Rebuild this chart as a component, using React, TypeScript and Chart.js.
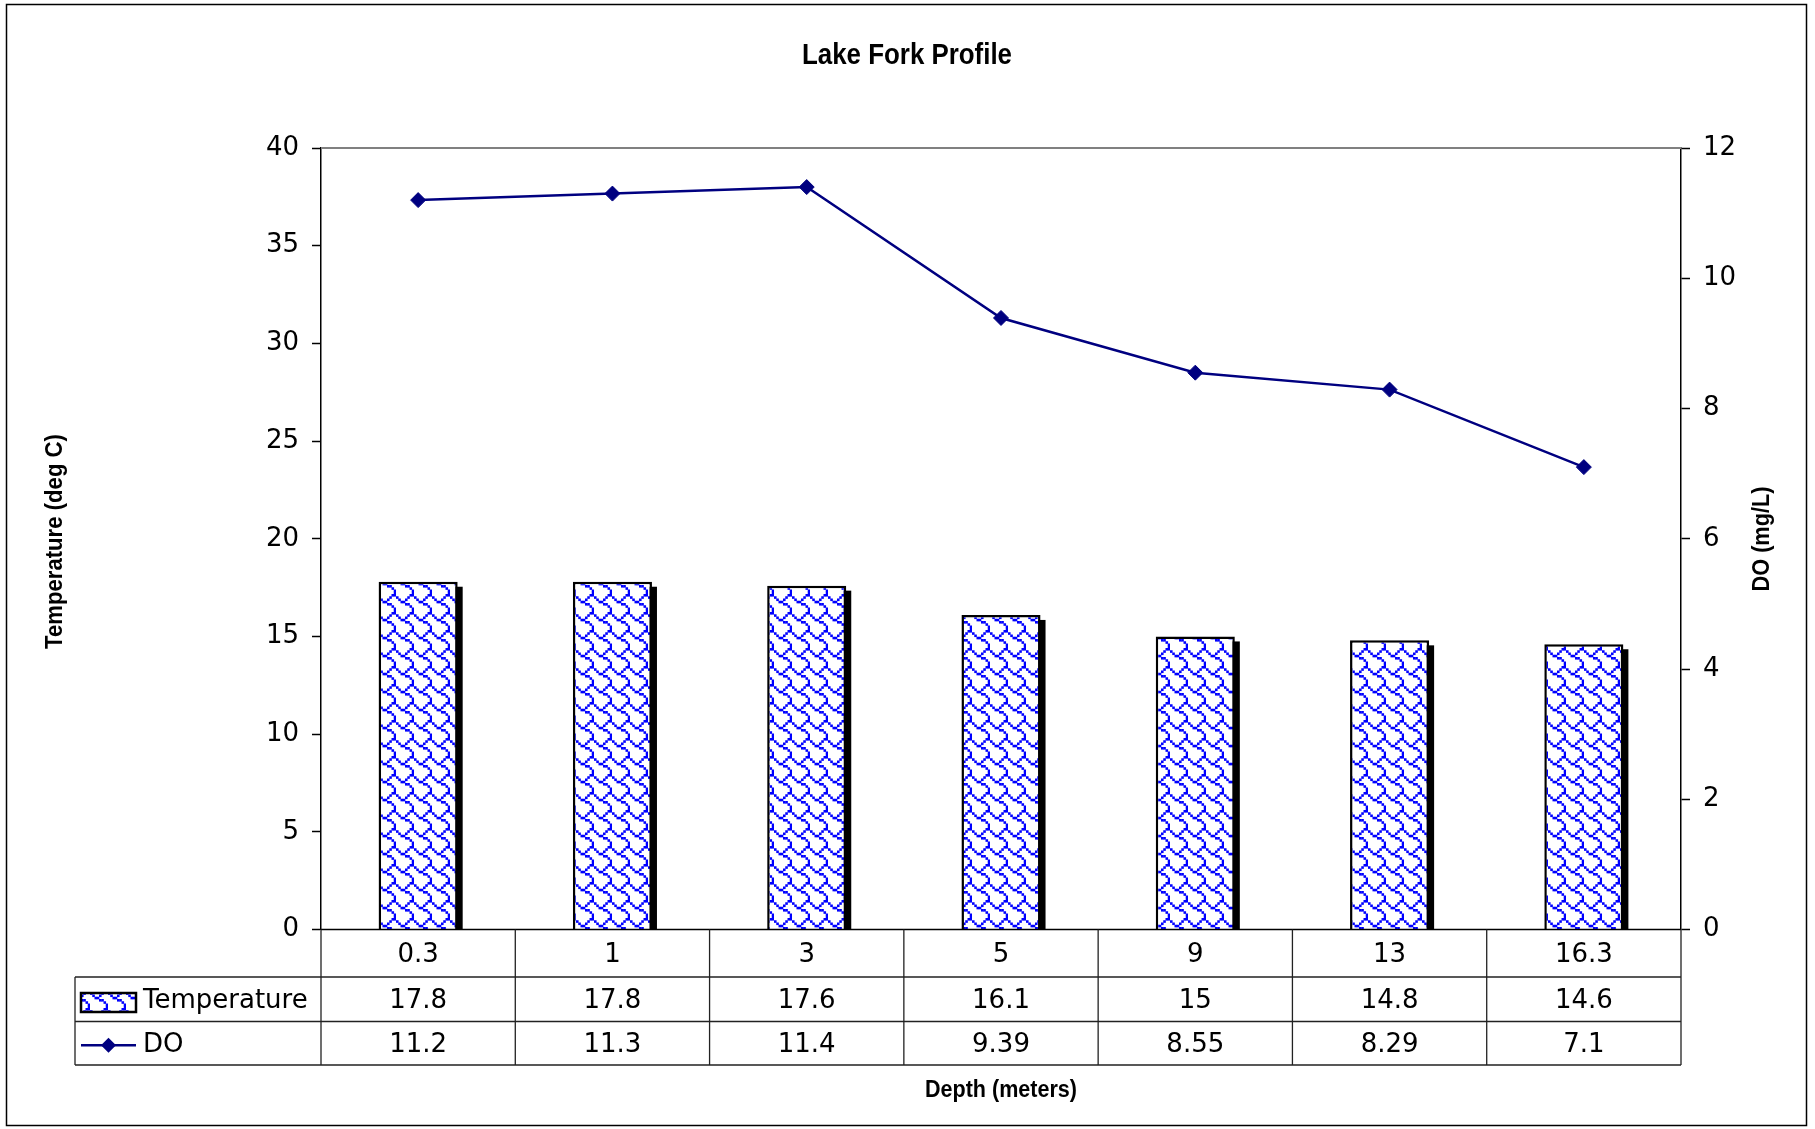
import React, { useEffect, useRef } from "react";
import { Chart, registerables } from "chart.js";

Chart.register(...registerables);

// ---- Data ----
const depthLabels = ["0.3", "1", "3", "5", "9", "13", "16.3"];
const temperatureValues = [17.8, 17.8, 17.6, 16.1, 15, 14.8, 14.6];
const doValues = [11.2, 11.3, 11.4, 9.39, 8.55, 8.29, 7.1];
const tempAxisRange = [0, 40, 5]; // min, max, step
const doAxisRange = [0, 12, 2];
const chartTitle = "Lake Fork Profile";
const leftAxisTitle = "Temperature (deg C)";
const rightAxisTitle = "DO (mg/L)";
const xAxisTitle = "Depth (meters)";
const seriesNames = ["Temperature", "DO"];

// Shingle hatch bitmap (8x8)
const SHINGLE = [0x03, 0x84, 0x48, 0x30, 0x0c, 0x02, 0x01, 0x01];

const W = 1815;
const H = 1129;
const NAVY = "#000080";
const TICK_FONT = '"DejaVu Sans", Verdana, sans-serif';
const TITLE_FONT = '"Liberation Sans Narrow", "Liberation Sans", Arial, sans-serif';

function makePattern(ctx: CanvasRenderingContext2D): CanvasPattern | string {
  const tile = 18;
  const k = tile / 8;
  const c = document.createElement("canvas");
  c.width = tile;
  c.height = tile;
  const g = c.getContext("2d");
  if (!g) return "#fff";
  g.fillStyle = "#ffffff";
  g.fillRect(0, 0, tile, tile);
  g.fillStyle = "#0000ff";
  SHINGLE.forEach((row, r) => {
    for (let b = 0; b < 8; b++) {
      if (row & (0x80 >> b)) g.fillRect(b * k, r * k, k * 1.15, k * 1.15);
    }
  });
  return ctx.createPattern(c, "repeat") || "#fff";
}

function fitText(
  ctx: CanvasRenderingContext2D,
  text: string,
  x: number,
  y: number,
  width: number,
  size: number,
  rot = 0
) {
  ctx.save();
  ctx.font = `bold ${size}px ${TITLE_FONT}`;
  const w = ctx.measureText(text).width;
  ctx.translate(x, y);
  if (rot) ctx.rotate(rot);
  ctx.scale(width / w, 1);
  ctx.textAlign = "center";
  ctx.textBaseline = "alphabetic";
  ctx.fillStyle = "#000";
  ctx.fillText(text, 0, 0);
  ctx.restore();
}

export default function App() {
  const ref = useRef<HTMLCanvasElement | null>(null);

  useEffect(() => {
    const canvas = ref.current;
    if (!canvas) return;
    const ctx0 = canvas.getContext("2d");
    if (!ctx0) return;
    const pattern = makePattern(ctx0);

    const decor = {
      id: "decor",
      beforeDatasetsDraw(chart: any) {
        const ctx = chart.ctx as CanvasRenderingContext2D;
        const meta = chart.getDatasetMeta(1);
        ctx.save();
        ctx.fillStyle = "#000";
        meta.data.forEach((el: any) => {
          const w = el.width;
          const top = el.y + 5;
          ctx.fillRect(el.x - w / 2 + 5, top, w, el.base - top);
        });
        ctx.restore();
      },
      afterDraw(chart: any) {
        const ctx = chart.ctx as CanvasRenderingContext2D;
        const area = chart.chartArea;
        const xs = chart.scales.x;
        const n = depthLabels.length;
        const colW = (area.right - area.left) / n;
        const y0 = area.bottom;
        const y1 = 977;
        const y2 = 1021.5;
        const y3 = 1065;
        const tableLeft = 75;

        ctx.save();
        // outer border
        ctx.strokeStyle = "#000";
        ctx.lineWidth = 1.5;
        ctx.strokeRect(6.5, 4.5, 1800, 1121);

        // plot top border
        ctx.strokeStyle = "#808080";
        ctx.lineWidth = 2;
        ctx.beginPath();
        ctx.moveTo(area.left, area.top);
        ctx.lineTo(area.right, area.top);
        ctx.stroke();

        // x axis line
        ctx.strokeStyle = "#000";
        ctx.lineWidth = 1.5;
        ctx.beginPath();
        ctx.moveTo(area.left, y0);
        ctx.lineTo(area.right, y0);
        ctx.stroke();

        // table grid
        ctx.strokeStyle = "#222";
        ctx.lineWidth = 1.3;
        ctx.beginPath();
        [y1, y2, y3].forEach((y) => {
          ctx.moveTo(tableLeft, y);
          ctx.lineTo(area.right, y);
        });
        ctx.moveTo(tableLeft, y1);
        ctx.lineTo(tableLeft, y3);
        for (let i = 0; i <= n; i++) {
          const x = area.left + i * colW;
          ctx.moveTo(x, y0);
          ctx.lineTo(x, y3);
        }
        ctx.stroke();

        // table text
        ctx.fillStyle = "#000";
        ctx.font = `26px ${TICK_FONT}`;
        ctx.textAlign = "center";
        ctx.textBaseline = "middle";
        for (let i = 0; i < n; i++) {
          const cx = xs.getPixelForValue(i);
          ctx.fillText(depthLabels[i], cx, (y0 + y1) / 2 + 1.5);
          ctx.fillText(String(temperatureValues[i]), cx, (y1 + y2) / 2 + 1.5);
          ctx.fillText(String(doValues[i]), cx, (y2 + y3) / 2 + 1.5);
        }
        ctx.textAlign = "left";
        ctx.fillText(seriesNames[0], 143, (y1 + y2) / 2 + 1.5);
        ctx.fillText(seriesNames[1], 143, (y2 + y3) / 2 + 1.5);

        // legend key: temperature
        ctx.fillStyle = pattern as any;
        ctx.fillRect(81, 993, 55, 19);
        ctx.strokeStyle = "#000";
        ctx.lineWidth = 2.5;
        ctx.strokeRect(81, 993, 55, 19);

        // legend key: DO
        const ly = (y2 + y3) / 2 + 2;
        ctx.strokeStyle = NAVY;
        ctx.lineWidth = 2.5;
        ctx.beginPath();
        ctx.moveTo(81, ly);
        ctx.lineTo(136, ly);
        ctx.stroke();
        ctx.fillStyle = NAVY;
        ctx.beginPath();
        const dx = 108.5;
        const r = 7.5;
        ctx.moveTo(dx, ly - r);
        ctx.lineTo(dx + r, ly);
        ctx.lineTo(dx, ly + r);
        ctx.lineTo(dx - r, ly);
        ctx.closePath();
        ctx.fill();
        ctx.restore();

        // titles
        fitText(ctx, chartTitle, 907, 64, 210, 29);
        fitText(ctx, leftAxisTitle, 61.5, 541.5, 215, 23, -Math.PI / 2);
        fitText(ctx, rightAxisTitle, 1769, 539, 105, 24, -Math.PI / 2);
        fitText(ctx, xAxisTitle, 1001, 1097, 152, 23);
      },
    };

    const tickFont = { family: TICK_FONT, size: 26 };

    const chart = new Chart(canvas, {
      type: "bar",
      data: {
        labels: depthLabels,
        datasets: [
          {
            type: "line",
            label: seriesNames[1],
            data: doValues,
            yAxisID: "y1",
            borderColor: NAVY,
            backgroundColor: NAVY,
            borderWidth: 2.5,
            pointStyle: "rectRot",
            pointRadius: 7.5,
            pointBackgroundColor: NAVY,
            pointBorderColor: NAVY,
            pointBorderWidth: 1,
            tension: 0,
            order: 1,
          } as any,
          {
            type: "bar",
            label: seriesNames[0],
            data: temperatureValues,
            yAxisID: "y",
            backgroundColor: pattern as any,
            borderColor: "#000",
            borderWidth: 2.5,
            borderSkipped: "bottom",
            barPercentage: 0.407,
            categoryPercentage: 1,
            order: 2,
          } as any,
        ],
      },
      options: {
        responsive: false,
        animation: false,
        devicePixelRatio: 1,
        layout: { padding: { top: 148, bottom: 199.5, left: 0, right: 0 } },
        plugins: {
          legend: { display: false },
          title: { display: false },
          tooltip: { enabled: false },
        },
        scales: {
          x: { display: false, offset: true },
          y: {
            position: "left",
            min: tempAxisRange[0],
            max: tempAxisRange[1],
            ticks: { stepSize: tempAxisRange[2], color: "#000", font: tickFont, padding: 13 },
            grid: {
              drawOnChartArea: false,
              drawTicks: true,
              tickLength: 9,
              tickColor: "#000",
              tickWidth: 1.5,
            },
            border: { display: true, color: "#000", width: 1.5 },
            afterFit: (s: any) => {
              s.width = 321;
            },
          },
          y1: {
            position: "right",
            min: doAxisRange[0],
            max: doAxisRange[1],
            ticks: { stepSize: doAxisRange[2], color: "#000", font: tickFont, padding: 13 },
            grid: {
              drawOnChartArea: false,
              drawTicks: true,
              tickLength: 9,
              tickColor: "#000",
              tickWidth: 1.5,
            },
            border: { display: true, color: "#000", width: 1.5 },
            afterFit: (s: any) => {
              s.width = W - 1681;
            },
          },
        },
      } as any,
      plugins: [decor],
    });

    return () => chart.destroy();
  }, []);

  return (
    <div
      style={{
        position: "absolute",
        left: 0,
        top: 0,
        width: W,
        height: H,
        background: "#fff",
      }}
    >
      <canvas ref={ref} width={W} height={H} style={{ display: "block", width: W, height: H }} />
    </div>
  );
}
